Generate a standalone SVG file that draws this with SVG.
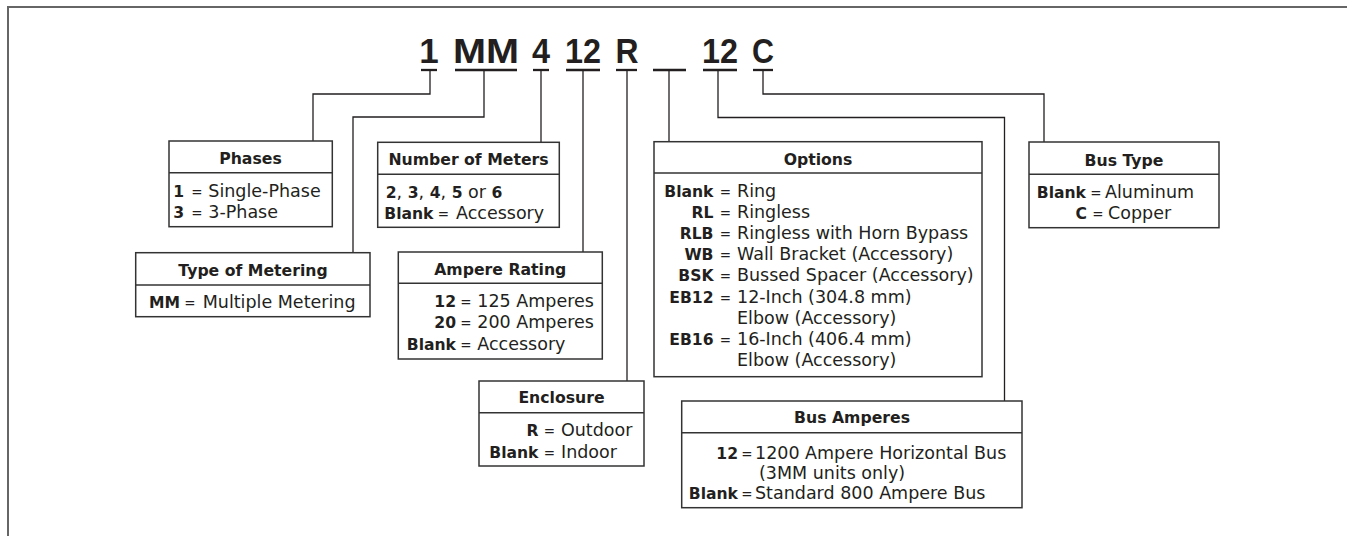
<svg xmlns="http://www.w3.org/2000/svg" width="1347" height="536" viewBox="0 0 1347 536">
<style>
text{fill:#231f20}
.hd{font-family:"Liberation Sans",Arial,sans-serif;font-weight:700;font-size:35px;text-anchor:middle}
.ul{stroke:#231f20;stroke-width:2.3}
.box{fill:#fff;stroke:#333;stroke-width:1.5}
.dv{stroke:#333;stroke-width:1.5}
.conn{fill:none;stroke:#231f20;stroke-width:1.3}
.t{font-family:"DejaVu Sans",sans-serif;font-weight:700;font-size:15.7px;text-anchor:middle}
.k{font-family:"DejaVu Sans",sans-serif;font-weight:700;font-size:15.6px;text-anchor:end}
.v{font-family:"DejaVu Sans",sans-serif;font-size:17.5px}
.eq{font-family:"DejaVu Sans",sans-serif;font-size:13.5px;text-anchor:middle}
.b{font-weight:700;font-size:15.6px}
</style>
<rect width="1347" height="536" fill="#fff"/>
<path d="M8,536 V7 H1347" fill="none" stroke="#666" stroke-width="2"/>

<g id="code">
<text class="hd" x="429" y="63">1</text>
<text class="hd" x="486" y="63" textLength="66" lengthAdjust="spacingAndGlyphs">MM</text>
<text class="hd" x="541" y="63" textLength="18" lengthAdjust="spacingAndGlyphs">4</text>
<text class="hd" x="583" y="63" textLength="36" lengthAdjust="spacingAndGlyphs">12</text>
<text class="hd" x="627" y="63" textLength="23" lengthAdjust="spacingAndGlyphs">R</text>
<text class="hd" x="720" y="63" textLength="36" lengthAdjust="spacingAndGlyphs">12</text>
<text class="hd" x="763" y="63" textLength="22" lengthAdjust="spacingAndGlyphs">C</text>
<line class="ul" x1="421" y1="70" x2="437" y2="70"/>
<line class="ul" x1="455" y1="70" x2="517" y2="70"/>
<line class="ul" x1="533" y1="70" x2="549" y2="70"/>
<line class="ul" x1="566" y1="70" x2="600" y2="70"/>
<line class="ul" x1="616" y1="70" x2="637" y2="70"/>
<line class="ul" x1="653" y1="70" x2="686" y2="70"/>
<line class="ul" x1="703" y1="70" x2="737" y2="70"/>
<line class="ul" x1="753" y1="70" x2="773" y2="70"/>
</g>

<g id="connectors">
<path class="conn" d="M430,71 V94 H313 V141"/>
<path class="conn" d="M484,71 V117 H353 V252.7"/>
<path class="conn" d="M541,71 V142.3"/>
<path class="conn" d="M583,71 V252"/>
<path class="conn" d="M627,71 V381"/>
<path class="conn" d="M669,71 V141.7"/>
<path class="conn" d="M718,71 V117.5 H1004.5 V401"/>
<path class="conn" d="M763,71 V94 H1044 V142"/>
</g>

<g id="phases">
<rect class="box" x="169" y="141" width="163.3" height="85.7"/>
<line class="dv" x1="169" y1="172.7" x2="332.3" y2="172.7"/>
<text class="t" x="250.5" y="164">Phases</text>
<text class="k" x="184" y="196.7">1</text><text class="eq" x="197" y="196.7">=</text><text class="v" x="208.3" y="196.7">Single-Phase</text>
<text class="k" x="184" y="218.3">3</text><text class="eq" x="197" y="218.3">=</text><text class="v" x="208.3" y="218.3">3-Phase</text>
</g>

<g id="meters">
<rect class="box" x="377.7" y="142.3" width="181.6" height="85"/>
<line class="dv" x1="377.7" y1="174.3" x2="559.3" y2="174.3"/>
<text class="t" x="468.5" y="165">Number of Meters</text>
<text class="v" x="385.7" y="197.7"><tspan class="b">2</tspan>, <tspan class="b">3</tspan>, <tspan class="b">4</tspan>, <tspan class="b">5</tspan> or <tspan class="b">6</tspan></text>
<text class="k" x="433.5" y="219.3">Blank</text><text class="eq" x="443.5" y="219.3">=</text><text class="v" x="456" y="219.3">Accessory</text>
</g>

<g id="metering">
<rect class="box" x="135.7" y="252.7" width="234.3" height="64"/>
<line class="dv" x1="135.7" y1="285" x2="370" y2="285"/>
<text class="t" x="253" y="275.7">Type of Metering</text>
<text class="k" x="180" y="308.3">MM</text><text class="eq" x="190" y="308.3">=</text><text class="v" x="202.7" y="308.3">Multiple Metering</text>
</g>

<g id="ampere">
<rect class="box" x="398.3" y="252" width="204" height="107"/>
<line class="dv" x1="398.3" y1="283.3" x2="602.3" y2="283.3"/>
<text class="t" x="500.3" y="275">Ampere Rating</text>
<text class="k" x="456" y="306.7">12</text><text class="eq" x="466" y="306.7">=</text><text class="v" x="477.3" y="306.7">125 Amperes</text>
<text class="k" x="456" y="328.3">20</text><text class="eq" x="466" y="328.3">=</text><text class="v" x="477.3" y="328.3">200 Amperes</text>
<text class="k" x="456" y="350">Blank</text><text class="eq" x="466" y="350">=</text><text class="v" x="477.3" y="350">Accessory</text>
</g>

<g id="enclosure">
<rect class="box" x="479" y="381" width="165" height="85"/>
<line class="dv" x1="479" y1="412.7" x2="644" y2="412.7"/>
<text class="t" x="561.5" y="403.3">Enclosure</text>
<text class="k" x="538.5" y="436">R</text><text class="eq" x="549.5" y="436">=</text><text class="v" x="561" y="436">Outdoor</text>
<text class="k" x="538.5" y="457.7">Blank</text><text class="eq" x="549.5" y="457.7">=</text><text class="v" x="561" y="457.7">Indoor</text>
</g>

<g id="options">
<rect class="box" x="654" y="141.7" width="328" height="235"/>
<line class="dv" x1="654" y1="173" x2="982" y2="173"/>
<text class="t" x="818" y="165">Options</text>
<text class="k" x="713.5" y="197">Blank</text><text class="eq" x="725.5" y="197">=</text><text class="v" x="737" y="197">Ring</text>
<text class="k" x="713.5" y="218.1">RL</text><text class="eq" x="725.5" y="218.1">=</text><text class="v" x="737" y="218.1">Ringless</text>
<text class="k" x="713.5" y="239.2">RLB</text><text class="eq" x="725.5" y="239.2">=</text><text class="v" x="737" y="239.2">Ringless with Horn Bypass</text>
<text class="k" x="713.5" y="260.3">WB</text><text class="eq" x="725.5" y="260.3">=</text><text class="v" x="737" y="260.3">Wall Bracket (Accessory)</text>
<text class="k" x="713.5" y="281.4">BSK</text><text class="eq" x="725.5" y="281.4">=</text><text class="v" x="737" y="281.4">Bussed Spacer (Accessory)</text>
<text class="k" x="713.5" y="302.5">EB12</text><text class="eq" x="725.5" y="302.5">=</text><text class="v" x="737" y="302.5">12-Inch (304.8 mm)</text>
<text class="v" x="737" y="323.6">Elbow (Accessory)</text>
<text class="k" x="713.5" y="344.7">EB16</text><text class="eq" x="725.5" y="344.7">=</text><text class="v" x="737" y="344.7">16-Inch (406.4 mm)</text>
<text class="v" x="737" y="365.8">Elbow (Accessory)</text>
</g>

<g id="bustype">
<rect class="box" x="1029" y="142" width="190" height="85.7"/>
<line class="dv" x1="1029" y1="174.3" x2="1219" y2="174.3"/>
<text class="t" x="1124" y="166">Bus Type</text>
<text class="k" x="1086" y="197.7">Blank</text><text class="eq" x="1096" y="197.7">=</text><text class="v" x="1105" y="197.7">Aluminum</text>
<text class="k" x="1087" y="219.3">C</text><text class="eq" x="1098" y="219.3">=</text><text class="v" x="1108" y="219.3">Copper</text>
</g>

<g id="busamperes">
<rect class="box" x="681.7" y="401" width="340.3" height="106.7"/>
<line class="dv" x1="681.7" y1="432.7" x2="1022" y2="432.7"/>
<text class="t" x="852" y="423.3">Bus Amperes</text>
<text class="k" x="738" y="458.5">12</text><text class="eq" x="747" y="458.5">=</text><text class="v" x="755" y="458.5">1200 Ampere Horizontal Bus</text>
<text class="v" x="759" y="478.5">(3MM units only)</text>
<text class="k" x="738" y="499">Blank</text><text class="eq" x="747" y="499">=</text><text class="v" x="755" y="499">Standard 800 Ampere Bus</text>
</g>
</svg>
